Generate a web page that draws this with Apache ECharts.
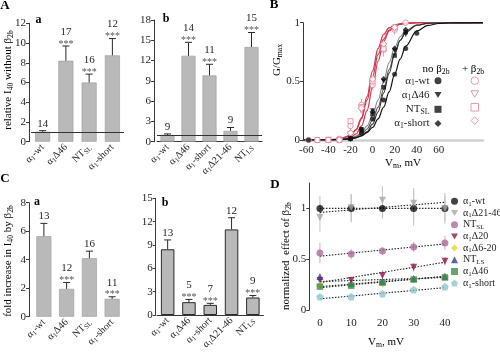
<!DOCTYPE html>
<html><head><meta charset="utf-8">
<script src="https://cdn.jsdelivr.net/npm/echarts@6/dist/echarts.min.js"></script>
<style>html,body{margin:0;padding:0;background:#fff;}#chart{width:500px;height:357px;}</style>
</head><body><div id="chart"></div>
<script>
// ================= DATA =================
// Panel A(a): relative I40 without beta2b
const aaCats = ['α1-wt', 'α1Δ46', 'NTSL', 'α1-short'];
const aaVals = [1.0, 8.2, 6.0, 8.75];
const aaErr  = [0.12, 1.5, 0.85, 1.7];
const aaN    = ['14', '17', '16', '12'];
const aaSig  = [false, true, true, true];
// Panel A(b)
const abCats = ['α1-wt', 'α1Δ46', 'α1-short', 'α1Δ21-46', 'NTLS'];
const abVals = [1.0, 12.7, 9.8, 1.6, 14.0];
const abErr  = [0.15, 2.0, 1.65, 0.5, 2.15];
const abN    = ['9', '14', '11', '9', '15'];
const abSig  = [false, true, true, false, true];
// Panel C(a): fold increase in I40 by beta2b
const caCats = ['α1-wt', 'α1Δ46', 'NTSL', 'α1-short'];
const caVals = [5.65, 1.95, 4.1, 1.25];
const caErr  = [0.9, 0.45, 0.5, 0.15];
const caN    = ['13', '12', '16', '11'];
const caSig  = [false, true, false, true];
// Panel C(b)
const cbCats = ['α1-wt', 'α1Δ46', 'α1-short', 'α1Δ21-46', 'NTLS'];
const cbVals = [8.45, 1.65, 1.3, 11.0, 2.25];
const cbErr  = [1.2, 0.35, 0.2, 1.5, 0.25];
const cbN    = ['13', '5', '7', '12', '9'];
const cbSig  = [false, true, true, false, true];

// Panel B: G/Gmax vs Vm (fitted curves)
const bCurveV = [-63, -40, -30, -20, -15, -10, -5, 0, 5, 10, 15, 20, 25, 30, 40, 50, 60, 70, 100];
const bRedA = [0, 0.001, 0.006, 0.036, 0.086, 0.19, 0.37, 0.59, 0.78, 0.90, 0.957, 0.98, 0.99, 0.997, 1, 1, 1, 1, 1];
const bRedB = [0, 0.0005, 0.0035, 0.021, 0.052, 0.12, 0.25, 0.45, 0.67, 0.84, 0.93, 0.97, 0.988, 0.995, 1, 1, 1, 1, 1];
const bRedC = [0, 0.0015, 0.008, 0.04, 0.088, 0.18, 0.34, 0.54, 0.73, 0.86, 0.935, 0.97, 0.987, 0.994, 1, 1, 1, 1, 1];
const bBlkWt = [0, 0.001, 0.004, 0.011, 0.02, 0.036, 0.063, 0.107, 0.18, 0.28, 0.41, 0.56, 0.69, 0.80, 0.93, 0.977, 0.993, 0.998, 1];
const bBlkA = [0, 0.001, 0.005, 0.018, 0.034, 0.065, 0.12, 0.21, 0.34, 0.5, 0.66, 0.79, 0.88, 0.935, 0.98, 0.995, 1, 1, 1];
const bBlkB = [0, 0.001, 0.004, 0.014, 0.027, 0.05, 0.094, 0.17, 0.28, 0.43, 0.6, 0.74, 0.85, 0.92, 0.976, 0.994, 0.998, 1, 1];
const bBlkC = [0, 0.0005, 0.002, 0.009, 0.018, 0.036, 0.071, 0.135, 0.24, 0.40, 0.57, 0.73, 0.85, 0.92, 0.98, 0.995, 0.999, 1, 1];
// Panel B points, no beta2b
const bWtV = [-58, -20, -10, 0, 10, 20, 30, 40];
const bWtG = [0, 0.01, 0.06, 0.18, 0.34, 0.56, 0.78, 0.91];
const bD46V = [-20, -10, 0, 10, 20, 30];
const bD46G = [0.01, 0.09, 0.25, 0.5, 0.76, 0.9];
const bSLV = [-20, -10, 0, 10, 20, 30];
const bSLG = [0.01, 0.08, 0.22, 0.45, 0.72, 0.92];
const bShV = [-20, -10, 0, 10, 20, 30];
const bShG = [0.01, 0.09, 0.24, 0.52, 0.78, 0.94];
// Panel B points, + beta2b
const pWtV = [-58, -50, -40, -30, -20, -10, 0, 10, 20, 30];
const pWtG = [0, 0, 0, 0.01, 0.12, 0.3, 0.47, 0.77, 0.94, 1.0];
const pWtE = [0, 0, 0, 0.01, 0.05, 0.05, 0.04, 0.06, 0.04, 0.01];
const pD46V = [-40, -30, -20, -10, 0, 10, 20];
const pD46G = [0, 0, 0.05, 0.25, 0.5, 0.8, 0.95];
const pSLV = [-50, -40, -30, -20, -10, 0, 10, 20];
const pSLG = [0, 0, 0, 0.16, 0.28, 0.5, 0.78, 0.96];
const pShV = [-30, -20, -10, 0, 10, 20];
const pShG = [0, 0.06, 0.27, 0.52, 0.82, 0.96];
const bYTicks = [0, 0.5, 1];

// Panel D: normalized effect of beta2b vs Vm
const dV = [0, 10, 20, 30, 40];
const dWt    = [1.0, 1.0, 1.0, 1.0, 1.0];
const dWtE   = [0.12, 0.14, 0.1, 0.17, 0.15];
const dD2146 = [0.91, 1.01, 1.08, 1.05, 1.0];
const dD2146E= [0.14, 0.13, 0.14, 0.15, 0.12];
const dNTSL  = [0.56, 0.55, 0.58, 0.62, 0.66];
const dNTSLE = [0.1, 0.05, 0.04, 0.05, 0.07];
const dD20   = [0.29, 0.29, 0.34, 0.42, 0.48];
const dD20E  = [0.04, 0.04, 0.05, 0.04, 0.04];
const dD620  = [0.24, 0.24, 0.26, 0.3, 0.33];
const dNTLS  = [0.33, 0.26, 0.28, 0.31, 0.33];
const dD46   = [0.23, 0.24, 0.27, 0.3, 0.32];
const dShort = [0.13, 0.13, 0.16, 0.2, 0.23];
// dotted linear fits: value at 0 mV and 40 mV
const dFitX = [0, 40];
const dFits = [[1.0, 1.0], [0.96, 1.06], [0.53, 0.65], [0.27, 0.47], [0.22, 0.33], [0.28, 0.32], [0.23, 0.33], [0.11, 0.22]];
const dNames = ['α1-wt', 'α1Δ21-46', 'NTSL', 'α1Δ20', 'α1Δ6-20', 'NTLS', 'α1Δ46', 'α1-short'];
const dYTicks = [0, 0.5, 1];

// ================= STYLE / HELPERS =================
const SERIF = '"Liberation Serif", "DejaVu Serif", serif';
const TXT = '#262626';
const AX = '#3a3a3a';
const SUBRE = /(α1|NTSL|NTLS|β2b|I40|Gmax|Vm)/g;
const SUBMAP = {'α1': ['α', '1'], 'NTSL': ['NT', 'SL'], 'NTLS': ['NT', 'LS'], 'β2b': ['β', '2b'], 'I40': ['I', '40'], 'Gmax': ['G', 'max'], 'Vm': ['V', 'm']};
function rt(s) {
  let out = '';
  s.split(SUBRE).forEach(p => {
    if (!p) return;
    if (SUBMAP[p]) out += '{m|' + SUBMAP[p][0] + '}{s|' + SUBMAP[p][1] + '}';
    else out += '{m|' + p + '}';
  });
  return out;
}
function R(fs, color) {
  color = color || TXT;
  const sfs = Math.round(fs * 0.7 * 10) / 10;
  return {
    m: {fontFamily: SERIF, fontSize: fs, color: color, lineHeight: fs + 2},
    s: {fontFamily: SERIF, fontSize: sfs, color: color, lineHeight: sfs - 1, verticalAlign: 'bottom'}
  };
}
function txt(x, y, s, fs, color) {
  return {type: 'text', x: x, y: y, style: {text: s, fill: color, fontFamily: SERIF, fontSize: fs,
    align: 'center', verticalAlign: 'middle', textAlign: 'center', textVerticalAlign: 'middle'}};
}
function barErrRender(ns, sigs) {
  return function (params, api) {
    const i = params.dataIndex;
    const x = api.value(0), v = api.value(1), e = api.value(2);
    const p0 = api.coord([x, v]);
    const p1 = api.coord([x, v + e]);
    const kids = [
      {type: 'line', shape: {x1: p0[0], y1: p0[1], x2: p1[0], y2: p1[1]}, style: {stroke: '#2a2a2a', lineWidth: 1}},
      {type: 'line', shape: {x1: p1[0] - 3.5, y1: p1[1], x2: p1[0] + 3.5, y2: p1[1]}, style: {stroke: '#2a2a2a', lineWidth: 1}}
    ];
    if (sigs[i]) {
      kids.push(txt(p1[0], p1[1] - 2, '***', 10, '#555'));
      kids.push(txt(p1[0], p1[1] - 14, ns[i], 11, TXT));
    } else {
      kids.push(txt(p1[0], p1[1] - 7, ns[i], 11, TXT));
    }
    return {type: 'group', children: kids};
  };
}
function symErrRender(color) {
  return function (params, api) {
    const x = api.value(0), v = api.value(1), e = api.value(2);
    const a = api.coord([x, v - e]), b = api.coord([x, v + e]);
    return {type: 'line', shape: {x1: a[0], y1: a[1], x2: b[0], y2: b[1]}, style: {stroke: color, lineWidth: 1}};
  };
}
const zip = (xs, ys) => xs.map((x, i) => [x, ys[i]]);
const zip3 = (xs, ys, es) => xs.map((x, i) => [x, ys[i], es[i]]);
const near = (v, arr) => arr.some(t => Math.abs(t - v) < 1e-6);

const grids = [], xAxes = [], yAxes = [], series = [];

function barPanel(cats, vals, errs, ns, sigs, g, yMax, yInt, st) {
  const gi = grids.length;
  grids.push(g);
  xAxes.push({type: 'category', gridIndex: gi, data: cats,
    axisTick: {show: false},
    axisLine: {show: st.xLine, onZero: false, lineStyle: {color: AX, width: 1}},
    axisLabel: {rotate: 45, margin: 4, interval: 0, formatter: v => rt(v), rich: R(10)}});
  yAxes.push({type: 'value', gridIndex: gi, min: 0, max: yMax, interval: yInt, offset: st.yOff,
    axisLine: {show: true, onZero: false, lineStyle: {color: AX, width: 1}},
    axisTick: {show: true, length: 3, lineStyle: {color: AX}},
    splitLine: {show: false},
    axisLabel: {fontFamily: SERIF, fontSize: 11, color: TXT, margin: 3}});
  const bar = {type: 'bar', xAxisIndex: gi, yAxisIndex: gi, data: vals, barWidth: st.bw, silent: true,
    itemStyle: {color: '#b9b9b9', borderColor: st.border, borderWidth: st.bwid}};
  if (st.refLine) {
    bar.markLine = {silent: true, symbol: 'none', label: {show: false},
      lineStyle: {color: '#333', type: 'solid', width: 1}, data: [{yAxis: 1}]};
  }
  series.push(bar);
  series.push({type: 'custom', xAxisIndex: gi, yAxisIndex: gi, silent: true, z: 5,
    data: vals.map((v, i) => [i, v, errs[i]]), renderItem: barErrRender(ns, sigs)});
}

// A(a)
barPanel(aaCats, aaVals, aaErr, aaN, aaSig, {left: 31, top: 23.3, width: 93, height: 118.4}, 12, 2,
  {xLine: false, yOff: 2, bw: 15, border: '#9a9a9a', bwid: 0.6, refLine: true});
// A(b)
barPanel(abCats, abVals, abErr, abN, abSig, {left: 157, top: 20, width: 105, height: 121.7}, 18, 3,
  {xLine: true, yOff: 3, bw: 14, border: '#9a9a9a', bwid: 0.6, refLine: true});
// C(a)
barPanel(caCats, caVals, caErr, caN, caSig, {left: 32.5, top: 202.7, width: 91, height: 114}, 8, 2,
  {xLine: false, yOff: 3.5, bw: 15, border: '#9a9a9a', bwid: 0.6, refLine: false});
// C(b)
barPanel(cbCats, cbVals, cbErr, cbN, cbSig, {left: 157, top: 198.3, width: 106.5, height: 116.7}, 15, 3,
  {xLine: true, yOff: 1.3, bw: 13.5, border: '#2a2a2a', bwid: 1, refLine: false});

// ---------- Panel B ----------
const gB = grids.length;
grids.push({left: 303, top: 22.7, width: 180, height: 117.3});
xAxes.push({type: 'value', gridIndex: gB, min: -63, max: 100,
  axisLine: {show: true, onZero: false, lineStyle: {color: '#cfcfcf', width: 2.5}},
  axisTick: {show: false}, splitLine: {show: false},
  axisLabel: {customValues: [-60, -40, -20, 0, 20, 40, 60], fontFamily: SERIF, fontSize: 11, color: TXT, margin: 5}});
yAxes.push({type: 'value', gridIndex: gB, min: 0, max: 1, interval: 0.5,
  axisLine: {show: true, onZero: false, lineStyle: {color: AX}},
  axisTick: {show: true, length: 3, lineStyle: {color: AX}},
  splitLine: {show: false},
  axisLabel: {fontFamily: SERIF, fontSize: 11, color: '#1a1a1a', margin: 3,
    formatter: v => (near(v, bYTicks) ? String(v) : '')}});
function curve(ys, color, w) {
  series.push({type: 'line', xAxisIndex: gB, yAxisIndex: gB, data: zip(bCurveV, ys), smooth: 0.35,
    smoothMonotone: 'x', showSymbol: false, silent: true, lineStyle: {color: color, width: w}});
}
curve(bRedB, '#d6405a', 1.3);
curve(bRedC, '#cf3850', 1.3);
curve(bRedA, '#d33a4e', 1.3);
curve(bBlkA, '#8a8a8a', 1.1);
curve(bBlkB, '#555', 1.1);
curve(bBlkC, '#333', 1.1);
curve(bBlkWt, '#111', 1.2);
series.push({type: 'custom', xAxisIndex: gB, yAxisIndex: gB, silent: true,
  data: zip3(pWtV, pWtG, pWtE), renderItem: symErrRender('#e597aa')});
const PINK = '#e07f98';
function pinkPts(name, xs, ys, sym, size, rot) {
  series.push({type: 'scatter', name: name, xAxisIndex: gB, yAxisIndex: gB, data: zip(xs, ys), symbol: sym,
    symbolSize: size, symbolRotate: rot || 0, silent: true, z: 3,
    itemStyle: {color: '#fff', borderColor: PINK, borderWidth: 1}});
}
function darkPts(name, xs, ys, sym, size, rot) {
  series.push({type: 'scatter', name: name, xAxisIndex: gB, yAxisIndex: gB, data: zip(xs, ys), symbol: sym,
    symbolSize: size, symbolRotate: rot || 0, silent: true, z: 4, itemStyle: {color: '#111'}});
}
pinkPts('B+:α1-wt', pWtV, pWtG, 'circle', 5.5);
pinkPts('B+:α1Δ46', pD46V, pD46G, 'triangle', 5.5, 180);
pinkPts('B+:NTSL', pSLV, pSLG, 'rect', 5);
pinkPts('B+:α1-short', pShV, pShG, 'diamond', 6.5);
darkPts('B:α1-wt', bWtV, bWtG, 'circle', 5);
darkPts('B:α1Δ46', bD46V, bD46G, 'triangle', 5, 180);
darkPts('B:NTSL', bSLV, bSLG, 'rect', 4.5);
darkPts('B:α1-short', bShV, bShG, 'diamond', 6);

// ---------- Panel D ----------
const gD = grids.length;
grids.push({left: 309.3, top: 183, width: 142.2, height: 127});
xAxes.push({type: 'value', gridIndex: gD, min: -3.4, max: 42.1,
  axisLine: {show: false, onZero: false}, axisTick: {show: false}, splitLine: {show: false},
  axisLabel: {customValues: [0, 10, 20, 30, 40], fontFamily: SERIF, fontSize: 11, color: TXT, margin: 8}});
yAxes.push({type: 'value', gridIndex: gD, min: 0, max: 1.25, interval: 0.5,
  axisLine: {show: true, onZero: false, lineStyle: {color: AX}},
  axisTick: {show: true, length: 3, lineStyle: {color: AX}},
  splitLine: {show: false},
  axisLabel: {fontFamily: SERIF, fontSize: 11, color: TXT, margin: 3, showMaxLabel: false,
    formatter: v => (near(v, dYTicks) ? String(v) : '')}});
dFits.forEach(f => {
  series.push({type: 'line', xAxisIndex: gD, yAxisIndex: gD, data: zip(dFitX, f), showSymbol: false, silent: true,
    lineStyle: {color: '#222', width: 1.1, type: [1.5, 1.5]}, z: 2});
});
function dErr(vals, errs, color) {
  series.push({type: 'custom', xAxisIndex: gD, yAxisIndex: gD, silent: true, z: 1,
    data: zip3(dV, vals, errs), renderItem: symErrRender(color)});
}
dErr(dWt, dWtE, '#bdbdbd');
dErr(dD2146, dD2146E, '#c4c4c4');
dErr(dNTSL, dNTSLE, '#d7a9c6');
dErr(dD20, dD20E, '#c98aa6');
const PENT = 'path://M0,-10 L9.5,-3.1 L5.9,8.1 L-5.9,8.1 L-9.5,-3.1 Z';
const TDOWN = 'path://M-10,-8 L10,-8 L0,9 Z';
const dSeries = [
  [dWt, '#111111', 'circle', 7, 0],
  [dD2146, '#a8a8a8', 'triangle', 7, 180],
  [dNTSL, '#a86f98', 'circle', 7, 0],
  [dD20, '#8e1d4a', 'triangle', 7, 180],
  [dD620, '#e6d33c', 'diamond', 8, 0],
  [dNTLS, '#3b3a8c', 'triangle', 7, 0],
  [dD46, '#3f8c52', 'rect', 6.5, 0],
  [dShort, '#8ec6c9', PENT, 7.5, 0]
];
dSeries.forEach((d, k) => {
  series.push({type: 'scatter', name: 'D:' + dNames[k], xAxisIndex: gD, yAxisIndex: gD, data: zip(dV, d[0]),
    symbol: d[2], symbolSize: d[3], symbolRotate: d[4], silent: true, z: 4, itemStyle: {color: d[1]}});
});

// ---------- legends ----------
const legends = [
  {data: [{name: 'B:α1-wt'}, {name: 'B:α1Δ46', icon: TDOWN}, {name: 'B:NTSL'}, {name: 'B:α1-short'}],
    orient: 'vertical', right: 58.5, top: 75.2,
    align: 'right', itemWidth: 7, itemHeight: 7, itemGap: 2.3, padding: 0, selectedMode: false,
    formatter: n => rt(n.split(':')[1]), textStyle: {rich: R(11)}},
  {data: [{name: 'B+:α1-wt'}, {name: 'B+:α1Δ46', icon: TDOWN}, {name: 'B+:NTSL'}, {name: 'B+:α1-short'}],
    orient: 'vertical', left: 470.5, top: 75.2, align: 'left',
    itemWidth: 7.5, itemHeight: 7.5, itemGap: 2.3, padding: 0, selectedMode: false,
    itemStyle: {borderWidth: 1}, formatter: () => '{m| }', textStyle: {rich: R(11)}},
  {data: dNames.map((n, k) => (dSeries[k][4] === 180 ? {name: 'D:' + n, icon: TDOWN} : {name: 'D:' + n})),
    orient: 'vertical', left: 451, top: 196.3,
    itemWidth: 7, itemHeight: 7, itemGap: 0.7, padding: 0, selectedMode: false,
    formatter: n => rt(n.split(':')[1]), textStyle: {rich: R(10)}}
];

// ---------- titles / letters ----------
function gtext(x, y, s, fs, rot, align, bold) {
  const rich = R(fs);
  if (bold) { rich.m.fontWeight = 'bold'; }
  return {type: 'text', x: x, y: y, rotation: rot || 0, silent: true,
    style: {text: rt(s), rich: rich, align: align || 'center', verticalAlign: 'middle'}};
}
const graphic = [
  gtext(5, 6, 'A', 13, 0, 'center', true),
  gtext(38.5, 19.5, 'a', 12, 0, 'center', true),
  gtext(166, 19, 'b', 12, 0, 'center', true),
  gtext(274, 5, 'B', 13, 0, 'center', true),
  gtext(5, 179, 'C', 13, 0, 'center', true),
  gtext(37, 202, 'a', 12, 0, 'center', true),
  gtext(165, 202.5, 'b', 12, 0, 'center', true),
  gtext(275, 185, 'D', 13, 0, 'center', true),
  gtext(8.5, 80, 'relative I40 without β2b', 11, Math.PI / 2),
  gtext(8.5, 261, 'fold increase in I40 by β2b', 11, Math.PI / 2),
  gtext(277, 60, 'G/Gmax', 11, Math.PI / 2),
  gtext(403, 163, 'Vm, mV', 11, 0),
  gtext(286, 256, 'normalized  effect of β2b', 11, Math.PI / 2),
  gtext(386, 342, 'Vm, mV', 11, 0),
  gtext(436, 69, 'no β2b', 11, 0),
  gtext(473, 69, '+ β2b', 11, 0)
];

const chart = echarts.init(document.getElementById('chart'), null, {renderer: 'canvas'});
chart.setOption({
  animation: false,
  backgroundColor: '#fff',
  grid: grids, xAxis: xAxes, yAxis: yAxes, series: series, legend: legends, graphic: graphic
});
</script>
</body></html>
